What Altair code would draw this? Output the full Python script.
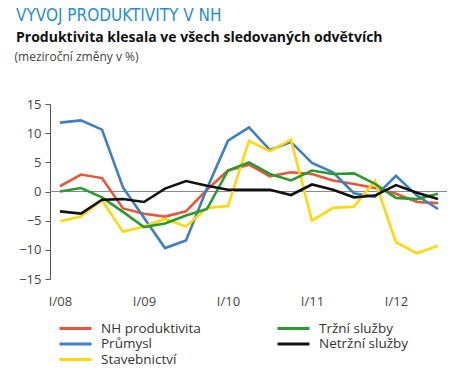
import altair as alt
import pandas as pd

quarters = list(range(19))
nh = [0.9, 2.9, 2.3, -2.9, -3.8, -4.3, -3.4, 0.3, 3.6, 4.6, 2.6, 3.3, 3.0, 1.9, 1.3, 0.6, -0.4, -1.8, -2.0]
prumysl = [11.8, 12.2, 10.6, 0.7, -4.5, -9.7, -8.4, 0.5, 8.7, 11.0, 7.1, 8.5, 4.9, 3.3, -0.3, -0.9, 2.7, -0.7, -3.0]
stavebnictvi = [-5.1, -4.3, -1.5, -6.9, -6.0, -4.7, -6.0, -2.8, -2.5, 8.7, 6.9, 8.9, -5.0, -2.8, -2.6, 1.8, -8.7, -10.6, -9.3]
trzni = [0.0, 0.6, -1.0, -3.5, -6.1, -5.5, -4.1, -3.0, 3.6, 5.0, 3.0, 1.9, 3.6, 3.0, 3.1, 1.3, -1.1, -1.3, -0.4]
netrzni = [-3.4, -3.8, -1.4, -1.3, -1.8, 0.5, 1.8, 1.0, 0.3, 0.3, 0.3, -0.6, 1.2, 0.3, -1.0, -0.7, 1.1, -0.2, -1.3]

series_names = ["NH produktivita", "Průmysl", "Stavebnictví", "Tržní služby", "Netržní služby"]
series_colors = ["#e8553b", "#3d7fc3", "#fcd80c", "#2a9a30", "#111111"]
series_values = [nh, prumysl, stavebnictvi, trzni, netrzni]
year_labels = ["I/08", "I/09", "I/10", "I/11", "I/12"]

rows = []
for name, vals in zip(series_names, series_values):
    for q, v in zip(quarters, vals):
        rows.append({"q": q, "value": v, "series": name})
df = pd.DataFrame(rows)

label_expr = "['" + "','".join(year_labels) + "'][datum.value/4]"

y_axis = alt.Axis(values=[-15, -10, -5, 0, 5, 10, 15], grid=False, tickSize=5,
                  labelOverlap=False, tickCount=7,
                  domainColor="#555555", tickColor="#555555", labelFontSize=13,
                  labelColor="#444444", labelFont="Open Sans", labelPadding=4,
                  title="(meziroční změny v %)", titleAngle=0, titleAlign="left",
                  titleBaseline="alphabetic", titleX=-36, titleY=-44,
                  titleFontSize=12, titleFontWeight="normal", titleColor="#444444",
                  titleFont="Open Sans")
y_scale = alt.Scale(domain=[-15, 15], nice=False)

zero = alt.Chart(pd.DataFrame({"value": [0]})).mark_rule(color="#888888", strokeWidth=1).encode(
    y=alt.Y("value:Q", scale=y_scale, axis=y_axis)
)

lines = alt.Chart(df).mark_line(strokeWidth=2.6).encode(
    x=alt.X("q:Q", scale=alt.Scale(domain=[-0.476, 18.43], nice=False, zero=False),
            axis=alt.Axis(values=[0, 4, 8, 12, 16], labelExpr=label_expr, domain=False, ticks=False,
                          grid=False, labelPadding=16, title=None, labelFontSize=13,
                          labelColor="#444444", labelFont="Open Sans")),
    y=alt.Y("value:Q", scale=y_scale, axis=y_axis),
    color=alt.Color("series:N", scale=alt.Scale(domain=series_names, range=series_colors),
                    legend=alt.Legend(title=None, orient="none", legendX=18, legendY=217,
                                      columns=2, columnPadding=70, rowPadding=1.5,
                                      symbolType="M-2.67,0H2.67", symbolSize=144, symbolStrokeWidth=3,
                                      labelFontSize=13.5, labelFont="Open Sans",
                                      labelColor="#333333", labelOffset=18)),
    order=alt.Order("q:Q"),
)

chart = alt.layer(zero, lines).properties(
    width=397, height=175,
    autosize=alt.AutoSizeParams(type="none"),
    padding={"left": 42, "top": 96, "right": 9, "bottom": 88},
    title=alt.TitleParams(
        text="VÝVOJ PRODUKTIVITY V NH",
        subtitle="Produktivita klesala ve všech sledovaných odvětvích",
        anchor="start", frame="group", dx=-34, offset=4,
        font="DejaVu Sans Condensed, Open Sans", fontSize=17, fontWeight="normal", color="#1f8fd0",
        subtitleFont="Open Sans", subtitleFontSize=14, subtitleFontWeight="bold",
        subtitleColor="#111111", subtitlePadding=6,
    ),
).configure_view(stroke=None)

chart.save("out.html", embed_options={"renderer": "svg", "actions": False})
